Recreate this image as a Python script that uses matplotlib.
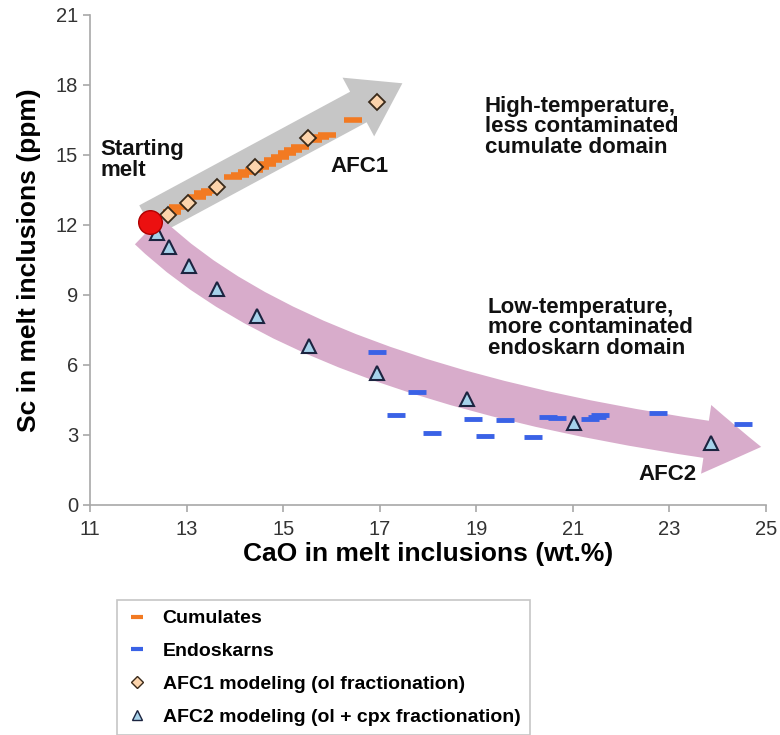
import matplotlib
matplotlib.use("Agg")
import matplotlib.pyplot as plt
from matplotlib.patches import FancyArrowPatch
from matplotlib.path import Path
from matplotlib.lines import Line2D

plt.rcParams['font.family'] = ['Liberation Sans', 'DejaVu Sans']

# cumulates (orange dashes)
cum_x = [12.70, 12.82, 13.22, 13.34, 13.48, 13.96, 14.11, 14.25, 14.40, 14.52,
         14.66, 14.79, 14.93, 15.08, 15.20, 15.35, 15.62, 15.76, 15.91, 16.45]
cum_y = [12.56, 12.77, 13.20, 13.37, 13.46, 14.06, 14.14, 14.27, 14.35, 14.49,
         14.62, 14.79, 14.92, 15.09, 15.22, 15.35, 15.65, 15.77, 15.86, 16.50]

# endoskarns (blue dashes)
endo_x = [16.94, 17.77, 17.34, 18.08, 18.93, 19.18, 19.59, 20.17, 20.48, 20.67,
          21.35, 21.50, 21.56, 22.76, 24.52]
endo_y = [6.56, 4.84, 3.86, 3.09, 3.69, 2.96, 3.64, 2.91, 3.77, 3.73,
          3.69, 3.77, 3.86, 3.94, 3.47]

# AFC1 model (ol fractionation)
afc1_x = [12.62, 13.03, 13.63, 14.42, 15.51, 16.94]
afc1_y = [12.43, 12.94, 13.63, 14.49, 15.73, 17.27]

# AFC2 model (ol + cpx fractionation)
afc2_x = [12.39, 12.64, 13.05, 13.63, 14.46, 15.54, 16.94, 18.81, 21.02, 23.86]
afc2_y = [11.66, 11.06, 10.24, 9.26, 8.10, 6.82, 5.66, 4.54, 3.51, 2.66]

start_x, start_y = 12.24, 12.13

# trend arrows (data coords)
afc1_arrow = [(12.14, 12.13), (17.52, 18.13)]
afc2_arrow = [(12.20, 11.75), (15.6, 4.95), (24.90, 2.49)]

fig = plt.figure(figsize=(7.8, 7.35), dpi=100)
ax = fig.add_axes([90/780, 1-505/735, 676/780, 490/735])
ax.set_xlim(11, 25)
ax.set_ylim(0, 21)

gray_arrow = FancyArrowPatch(afc1_arrow[0], afc1_arrow[1],
                             arrowstyle='simple,head_length=36,head_width=48,tail_width=25',
                             mutation_scale=1, color='#c6c6c6', lw=0, zorder=1,
                             clip_on=False)
ax.add_patch(gray_arrow)

pink_path = Path(afc2_arrow, [Path.MOVETO, Path.CURVE3, Path.CURVE3])
pink_arrow = FancyArrowPatch(path=pink_path,
                             arrowstyle='simple,head_length=40,head_width=50,tail_width=27',
                             mutation_scale=1, color='#d8accb', lw=0, zorder=1.5,
                             clip_on=False)
ax.add_patch(pink_arrow)

ax.plot(cum_x, cum_y, ls='none', marker='_', ms=13, mew=4, color='#f27a22', zorder=3)
ax.plot(endo_x, endo_y, ls='none', marker='_', ms=13, mew=3.5, color='#3a62e6', zorder=3)
ax.plot(afc1_x, afc1_y, ls='none', marker='D', ms=8.5, mfc='#fcd4ac', mec='#3a2a1a',
        mew=1.3, zorder=4)
ax.plot(afc2_x, afc2_y, ls='none', marker='^', ms=10.5, mfc='#a6d2ea', mec='#1c2440',
        mew=1.5, zorder=4)
ax.plot([start_x], [start_y], ls='none', marker='o', ms=17, mfc='#ec1010',
        mec='#b00000', mew=1, zorder=5)

ax.set_xticks(range(11, 26, 2))
ax.set_yticks(range(0, 22, 3))
for s in ['top', 'right']:
    ax.spines[s].set_visible(False)
for s in ['left', 'bottom']:
    ax.spines[s].set_color('#a8a8a8')
    ax.spines[s].set_linewidth(1.2)
ax.tick_params(colors='#a8a8a8', labelcolor='#333333', labelsize=14.5, length=5, width=1.2)
ax.tick_params(axis='x', pad=6)

ax.set_xlabel('CaO in melt inclusions (wt.%)', fontsize=19, fontweight='bold', labelpad=2)
ax.set_ylabel('Sc in melt inclusions (ppm)', fontsize=19, fontweight='bold', labelpad=11)

bold = dict(fontsize=16, fontweight='bold', color='#111111')
ax.text(11.21, 14.79, 'Starting\nmelt', ha='left', va='center', linespacing=1.0, **bold)
ax.text(16.59, 14.49, 'AFC1', ha='center', va='center', **bold)
ax.text(19.18, 16.2, 'High-temperature,\nless contaminated\ncumulate domain',
        ha='left', va='center', linespacing=0.98, **bold)
ax.text(19.24, 7.59, 'Low-temperature,\nmore contaminated\nendoskarn domain',
        ha='left', va='center', linespacing=0.98, **bold)
ax.text(22.97, 1.29, 'AFC2', ha='center', va='center', **bold)

handles = [
    Line2D([], [], ls='none', marker='_', ms=9, mew=3, color='#f27a22'),
    Line2D([], [], ls='none', marker='_', ms=9, mew=3, color='#3a62e6'),
    Line2D([], [], ls='none', marker='D', ms=6, mfc='#fcd4ac', mec='#3a2a1a', mew=1),
    Line2D([], [], ls='none', marker='^', ms=7, mfc='#a6d2ea', mec='#1c2440', mew=1),
]
labels = ['Cumulates', 'Endoskarns', 'AFC1 modeling (ol fractionation)',
          'AFC2 modeling (ol + cpx fractionation)']
leg = fig.legend(handles, labels, loc='upper left', bbox_to_anchor=(117/780, 1-600/735),
                 borderaxespad=0, frameon=True, fancybox=False, edgecolor='#b8b8b8',
                 handlelength=1.1, handletextpad=0.75, labelspacing=0.78, borderpad=0.5,
                 prop={'size': 14, 'weight': 'bold'})
leg.get_frame().set_linewidth(1.2)

fig.savefig('out.png', dpi=100)
